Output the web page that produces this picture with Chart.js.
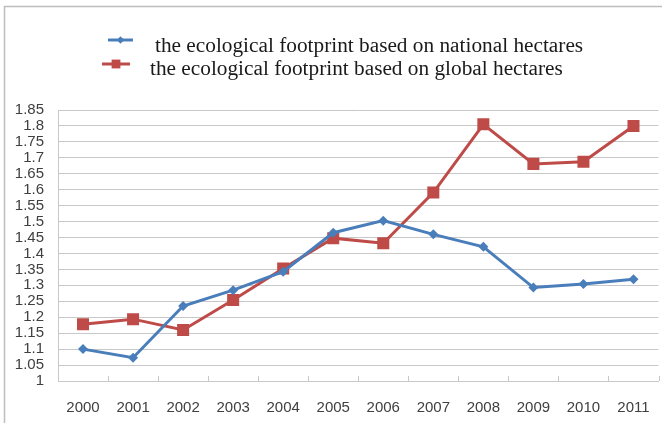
<!DOCTYPE html>
<html>
<head>
<meta charset="utf-8">
<script src="https://cdn.jsdelivr.net/npm/chart.js@4.4.1/dist/chart.umd.min.js"></script>
<style>
  html, body { margin: 0; padding: 0; background: #fff; overflow: hidden; }
  /* um pouco mais largo que a janela: o Chart.js reserva ~7px à direita */
  #box { position: relative; width: 667px; height: 423px; }
</style>
</head>
<body>
<div id="box"><canvas id="grafico"></canvas></div>
<script>
// anos e séries
const anos = ["2000", "2001", "2002", "2003", "2004", "2005", "2006", "2007", "2008", "2009", "2010", "2011"];
const hectaresNacionais = [1.10, 1.073, 1.235, 1.285, 1.343, 1.465, 1.503, 1.460, 1.421, 1.293, 1.304, 1.319];
const hectaresGlobais = [1.178, 1.194, 1.160, 1.254, 1.353, 1.448, 1.432, 1.591, 1.805, 1.681, 1.688, 1.800];
const rotulosSerie = [
    "the ecological footprint based on national hectares",
    "the ecological footprint based on global hectares"
];

const AZUL = "#4a7ebb";
const VERMELHO = "#be4b48";
const GRADE = "#c8c8c8";

// moldura + legenda desenhadas à mão (estilo Excel)
const pluginMoldura = {
    id: "moldura",
    afterDraw(chart) {
        const ctx = chart.ctx;
        ctx.save();

        ctx.strokeStyle = "#bdbdbd";
        ctx.lineWidth = 1.5;
        ctx.beginPath();
        ctx.moveTo(4.5, 423);
        ctx.lineTo(4.5, 6.5);
        ctx.lineTo(667, 6.5);
        ctx.stroke();

        // ticks internos do eixo x
        const x = chart.scales.x;
        const base = chart.chartArea.bottom;
        ctx.strokeStyle = GRADE;
        ctx.lineWidth = 1;
        for (let i = 0; i <= anos.length; i++) {
            const px = Math.round(x.getPixelForValue(i - 0.5)) + 0.5;
            ctx.beginPath();
            ctx.moveTo(px, base);
            ctx.lineTo(px, base - 5);
            ctx.stroke();
        }

        // legenda
        const itens = [
            { cor: AZUL, estilo: "rectRot", raio: 3.5, x0: 108, x1: 133, y: 40, tx: 155, ty: 46 },
            { cor: VERMELHO, estilo: "rect", raio: 6, x0: 102, x1: 130, y: 64, tx: 150, ty: 69 }
        ];
        itens.forEach((it, i) => {
            ctx.strokeStyle = it.cor;
            ctx.lineWidth = 3;
            ctx.beginPath();
            ctx.moveTo(it.x0, it.y);
            ctx.lineTo(it.x1, it.y);
            ctx.stroke();
            ctx.fillStyle = it.cor;
            Chart.helpers.drawPoint(ctx, { pointStyle: it.estilo, radius: it.raio, rotation: 0 }, (it.x0 + it.x1) / 2, it.y);
            ctx.fill();

            ctx.fillStyle = "#1a1a1a";
            ctx.font = "21.3px 'Liberation Serif', 'Times New Roman', serif";
            ctx.textBaseline = "middle";
            ctx.textAlign = "left";
            ctx.fillText(rotulosSerie[i], it.tx, it.ty);
        });

        ctx.restore();
    }
};

new Chart(document.getElementById("grafico"), {
    type: "line",
    data: {
        labels: anos,
        datasets: [
            {
                label: rotulosSerie[0],
                data: hectaresNacionais,
                borderColor: AZUL,
                backgroundColor: AZUL,
                borderWidth: 3,
                pointStyle: "rectRot",
                pointRadius: 5,
                pointBorderWidth: 0,
                tension: 0
            },
            {
                label: rotulosSerie[1],
                data: hectaresGlobais,
                borderColor: VERMELHO,
                backgroundColor: VERMELHO,
                borderWidth: 3,
                pointStyle: "rect",
                pointRadius: 8.5,
                pointBorderWidth: 0,
                tension: 0
            }
        ]
    },
    options: {
        responsive: true,
        maintainAspectRatio: false,
        animation: false,
        layout: {
            padding: { top: 110, left: 0, right: 2, bottom: 0 }
        },
        plugins: {
            legend: { display: false },
            tooltip: { enabled: false }
        },
        scales: {
            x: {
                offset: true,
                grid: { display: false, drawTicks: false },
                border: { display: true, color: GRADE, width: 1 },
                afterFit: s => { s.height = 42; s.paddingLeft = 0; s.paddingRight = 0; },
                ticks: {
                    color: "#404040",
                    padding: 18,
                    font: { family: "'Liberation Sans Narrow', Arial, sans-serif", size: 15 }
                }
            },
            y: {
                min: 1,
                max: 1.85,
                grid: { color: GRADE, lineWidth: 1, drawTicks: false },
                border: { display: true, color: GRADE, width: 1 },
                afterFit: s => { s.width = 58; },
                ticks: {
                    stepSize: 0.05,
                    color: "#404040",
                    padding: 14,
                    autoSkip: false,
                    font: { family: "'Liberation Sans Narrow', Arial, sans-serif", size: 15 },
                    callback: v => String(Math.round(v * 100) / 100)
                }
            }
        }
    },
    plugins: [pluginMoldura]
});
</script>
</body>
</html>
